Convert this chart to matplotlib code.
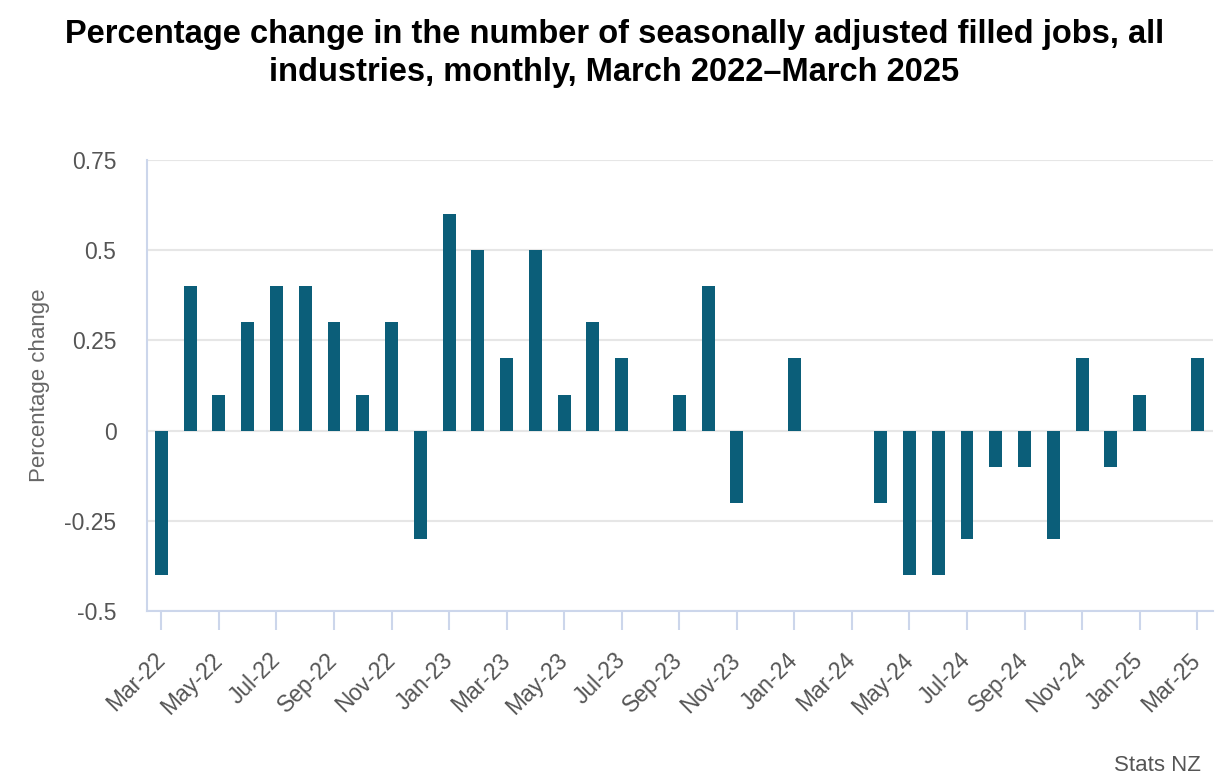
import matplotlib
matplotlib.use('Agg')
import matplotlib.pyplot as plt

plt.rcParams['font.family'] = ['Liberation Sans', 'DejaVu Sans']

# Monthly data, Mar-22 .. Mar-25
months = ['Mar-22', 'Apr-22', 'May-22', 'Jun-22', 'Jul-22', 'Aug-22', 'Sep-22', 'Oct-22',
          'Nov-22', 'Dec-22', 'Jan-23', 'Feb-23', 'Mar-23', 'Apr-23', 'May-23', 'Jun-23',
          'Jul-23', 'Aug-23', 'Sep-23', 'Oct-23', 'Nov-23', 'Dec-23', 'Jan-24', 'Feb-24',
          'Mar-24', 'Apr-24', 'May-24', 'Jun-24', 'Jul-24', 'Aug-24', 'Sep-24', 'Oct-24',
          'Nov-24', 'Dec-24', 'Jan-25', 'Feb-25', 'Mar-25']
pct_change = [-0.4, 0.4, 0.1, 0.3, 0.4, 0.4, 0.3, 0.1,
              0.3, -0.3, 0.6, 0.5, 0.2, 0.5, 0.1, 0.3,
              0.2, 0.0, 0.1, 0.4, -0.2, 0.0, 0.2, 0.0,
              0.0, -0.2, -0.4, -0.4, -0.3, -0.1, -0.1, -0.3,
              0.2, -0.1, 0.1, 0.0, 0.2]
y_ticks = [-0.5, -0.25, 0, 0.25, 0.5, 0.75]
y_tick_labels = ['-0.5', '-0.25', '0', '0.25', '0.5', '0.75']

bar_color = '#0b5e79'
axis_color = '#ccd6eb'
text_color = '#555555'

fig = plt.figure(figsize=(12.29, 7.82), dpi=100)
ax = fig.add_axes([0.1196, 0.2187, 0.987 - 0.1196, 0.7954 - 0.2187])

x = list(range(len(months)))
ax.bar(x, pct_change, width=0.45, color=bar_color, zorder=3)

ax.set_ylim(-0.5, 0.75)
ax.set_xlim(-0.5, len(months) - 0.45)
ax.set_yticks(y_ticks)
ax.set_yticklabels(y_tick_labels)
ax.grid(axis='y', color='#e6e6e6', linewidth=1.5, zorder=0)
ax.set_axisbelow(True)

ax.set_xticks(x[::2])
ax.set_xticklabels(months[::2], rotation=45, ha='right', va='center',
                   rotation_mode='anchor')

for side in ['top', 'right']:
    ax.spines[side].set_visible(False)
for side in ['left', 'bottom']:
    ax.spines[side].set_color(axis_color)
    ax.spines[side].set_linewidth(1.5)

ax.tick_params(axis='x', length=14, width=1.5, color=axis_color, pad=19,
               labelsize=16.5, labelcolor=text_color)
ax.tick_params(axis='y', length=0, pad=22, labelsize=16.5, labelcolor=text_color)

ax.set_ylabel('Percentage change', fontsize=16, color='#666666', labelpad=10)

fig.suptitle('Percentage change in the number of seasonally adjusted filled jobs, all\n'
             'industries, monthly, March 2022\u2013March 2025',
             x=0.5, y=0.976, fontsize=23.5, fontweight='bold', color='black',
             linespacing=1.32)

fig.text(0.977, 0.008, 'Stats NZ', ha='right', va='bottom', fontsize=16, color=text_color)

plt.savefig('out.png', dpi=100)
